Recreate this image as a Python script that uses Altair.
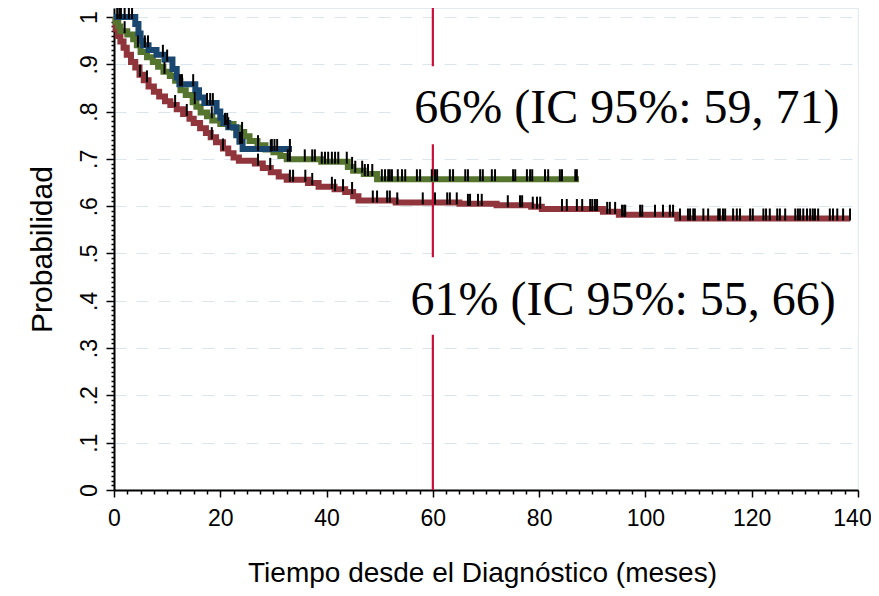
import altair as alt
import pandas as pd

# ---- Kaplan-Meier step curves (time in months, survival probability) ----
red_t = [0, 0.3, 0.7, 1.2, 1.8, 2.4, 3.2, 4.0, 4.8, 5.6, 6.5, 7.5, 8.5, 9.6, 10.6, 11.8, 13.0,
         14.2, 15.0, 16.2, 17.3, 18.2, 19.2, 20.5, 21.5, 22.5, 23.5, 26.5, 28.0, 29.5, 31.0,
         32.5, 36.5, 38.5, 41.5, 43.5, 45.0, 46.0, 53.0, 65.0, 72.0, 78.5, 80.5, 92.0, 95.0, 106.0]
red_s = [1.0, 0.975, 0.96, 0.948, 0.935, 0.92, 0.905, 0.893, 0.878, 0.866, 0.853, 0.842, 0.832,
         0.822, 0.814, 0.805, 0.795, 0.785, 0.776, 0.765, 0.755, 0.746, 0.735, 0.722, 0.712,
         0.703, 0.696, 0.69, 0.681, 0.672, 0.663, 0.656, 0.649, 0.641, 0.636, 0.63, 0.621,
         0.612, 0.608, 0.605, 0.602, 0.599, 0.594, 0.588, 0.582, 0.574]
red_end = 138.5

green_t = [0, 0.3, 0.8, 1.2, 2.5, 3.6, 4.3, 5.0, 6.2, 7.3, 8.3, 9.3, 10.5, 11.5, 12.5, 13.5,
           14.8, 15.5, 16.3, 17.5, 18.5, 20.0, 22.5, 23.5, 24.5, 25.5, 27.0, 28.5, 30.0, 31.3,
           32.5, 39.0, 44.0, 45.0, 47.0, 49.5]
green_s = [1.0, 0.99, 0.98, 0.97, 0.963, 0.953, 0.94, 0.926, 0.915, 0.905, 0.895, 0.884, 0.875,
           0.865, 0.845, 0.835, 0.82, 0.81, 0.798, 0.79, 0.781, 0.774, 0.766, 0.757, 0.748,
           0.738, 0.729, 0.72, 0.714, 0.706, 0.699, 0.694, 0.683, 0.675, 0.668, 0.657]
green_end = 87.5

blue_t = [0, 4.0, 4.6, 5.0, 5.5, 6.5, 8.0, 9.5, 11.0, 11.8, 12.3, 15.3, 16.0, 17.0, 19.3, 20.0,
          20.6, 21.5, 23.0, 23.6, 24.2]
blue_s = [1.0, 0.985, 0.965, 0.95, 0.94, 0.93, 0.92, 0.91, 0.89, 0.872, 0.858, 0.845, 0.83,
          0.818, 0.8, 0.787, 0.776, 0.767, 0.75, 0.736, 0.721]
blue_end = 33.5

# ---- censoring times ----
red_cens = [4.9, 6.2, 11.5, 13.7, 18.4, 20.5, 27.1, 29.4, 33.1, 33.7, 36.0, 37.3, 41.0, 41.6,
            43.1, 44.8, 48.7, 49.5, 51.4, 51.9, 53.3, 58.1, 60.4, 62.7, 63.2, 64.5, 66.6, 67.0,
            68.5, 69.2, 74.1, 76.4, 76.8, 78.8, 79.6, 80.2, 84.3, 85.2, 87.1, 88.1, 89.6, 90.0,
            90.5, 90.9, 92.8, 93.3, 94.3, 95.6, 96.0, 96.2, 99.0, 99.4, 101.8, 103.3, 104.6,
            105.2, 106.5, 108.0, 108.4, 109.0, 109.3, 110.9, 111.8, 113.7, 114.0, 114.6, 115.0,
            116.5, 117.2, 117.8, 119.7, 120.2, 122.2, 122.7, 123.4, 124.8, 125.3, 126.3, 128.2,
            128.7, 129.1, 129.7, 130.4, 131.0, 131.5, 131.9, 132.5, 134.7, 135.3, 136.1, 137.2,
            138.5]
green_cens = [2.0, 4.5, 9.5, 15.2, 18.4, 24.1, 27.1, 29.5, 32.7, 33.1, 35.9, 37.3, 37.8, 39.1,
              39.7, 40.3, 41.0, 41.6, 42.2, 43.8, 44.8, 45.4, 46.7, 47.2, 47.8, 48.6, 50.4, 51.0,
              51.6, 51.9, 52.3, 53.4, 54.2, 54.8, 57.0, 57.6, 59.8, 60.4, 60.8, 63.2, 63.8, 66.1,
              66.6, 68.9, 69.4, 71.1, 71.7, 75.1, 75.5, 77.7, 78.3, 78.7, 81.1, 81.7, 83.9, 84.3,
              86.8, 87.1]
blue_cens = [0.6, 1.0, 1.3, 2.0, 2.8, 3.4, 5.8, 6.4, 9.2, 10.0, 12.4, 12.8, 14.9, 17.5, 18.1,
             18.6, 20.9, 21.3, 21.5, 23.7, 24.1, 27.1, 29.7, 30.2, 30.7, 33.1]

# ---- annotations ----
ref_month = [60]
ann_text = ["66% (IC 95%: 59, 71)", "61% (IC 95%: 55, 66)"]
ann_t = [96.5, 95.8]
ann_s = [0.806, 0.399]
box_t1 = [53.8, 53.8]
box_t2 = [140, 140]
box_s1 = [0.731, 0.328]
box_s2 = [0.896, 0.492]

groups = ["red", "green", "blue"]
colors = ["#90353b", "#55752f", "#1a476f"]


def step_rows(name, ts, ss, end):
    rows = [{"g": name, "t": t, "s": s} for t, s in zip(ts, ss)]
    rows.append({"g": name, "t": end, "s": ss[-1]})
    return rows


def surv_at(ts, ss, x):
    v = ss[0]
    for t, s in zip(ts, ss):
        if t <= x:
            v = s
    return v


curves = {
    "red": (red_t, red_s, red_end, red_cens),
    "green": (green_t, green_s, green_end, green_cens),
    "blue": (blue_t, blue_s, blue_end, blue_cens),
}

xscale = alt.Scale(domain=[0, 140], nice=False, zero=False)
yscale = alt.Scale(domain=[0, 1.019], nice=False, zero=False)

x_minor = [i * 2.5 for i in range(57)]
y_minor = [round(i * 0.01, 2) for i in range(101)]
y_major_test = "abs(datum.value*10 - round(datum.value*10)) < 0.001"

x_axis = alt.Axis(
    values=x_minor,
    title="Tiempo desde el Diagnóstico (meses)",
    labelExpr="datum.value % 20 == 0 ? format(datum.value, 'd') : ''",
    labelFont="Liberation Sans", labelFontSize=23, labelColor="black",
    labelPadding=10, labelOverlap=False, labelFlush=False,
    labelOffset={"condition": {"test": "datum.value >= 139", "value": -6}, "value": 0},
    tickSize={"condition": {"test": "datum.value % 20 == 0", "value": 7}, "value": 4},
    tickColor="black", tickWidth=1.5,
    domainColor="black", domainWidth=2,
    grid=False,
    titleFont="Liberation Sans", titleFontSize=28, titleFontWeight="normal",
    titleColor="black", titleX=368, titleY=91, titleBaseline="alphabetic",
)

y_axis = alt.Axis(
    values=y_minor,
    title="Probabilidad",
    labelExpr=("(" + y_major_test + ") ? (datum.value == 0 ? '0' : datum.value > 0.999 ? '1' : "
               "'.' + format(round(datum.value*10), 'd')) : ''"),
    labelFont="Liberation Sans", labelFontSize=23, labelColor="black",
    labelAngle=270, labelAlign="center", labelBaseline="alphabetic",
    labelPadding=10, labelOverlap=False, labelFlush=False,
    tickSize={"condition": {"test": y_major_test, "value": 8}, "value": 3},
    tickColor="black", tickWidth=1.5,
    domainColor="black", domainWidth=2,
    grid=True, gridColor="#dbe5ec", gridDash=[12, 10], gridWidth=1.2,
    gridOpacity={"condition": {"test": y_major_test + " && datum.value > 0.001", "value": 1}, "value": 0},
    titleFont="Liberation Sans", titleFontSize=30, titleFontWeight="normal",
    titleColor="black", titleAngle=270, titleAlign="center", titleBaseline="alphabetic",
    titleX=-63, titleY=241,
)


def X(field):
    return alt.X(field, scale=xscale, axis=x_axis)


def Y(field):
    return alt.Y(field, scale=yscale, axis=y_axis)


layers = []
for i, g in enumerate(groups):
    ts, ss, end, _ = curves[g]
    df = pd.DataFrame(step_rows(g, ts, ss, end))
    layers.append(
        alt.Chart(df).mark_line(interpolate="step-after", strokeWidth=6, color=colors[i],
                                strokeJoin="miter").encode(x=X("t:Q"), y=Y("s:Q"))
    )

rule = alt.Chart(pd.DataFrame({"t": ref_month})).mark_rule(color="#c8103a", strokeWidth=2.2).encode(
    x=X("t:Q")
)

boxes = alt.Chart(pd.DataFrame({"x1": box_t1, "x2": box_t2, "y1": box_s1, "y2": box_s2})).mark_rect(
    color="white"
).encode(
    x=X("x1:Q"), x2="x2:Q",
    y=Y("y1:Q"), y2="y2:Q",
)

cens_rows = []
for g in groups:
    ts, ss, end, cens = curves[g]
    for c in cens:
        cens_rows.append({"g": g, "t": c, "s": surv_at(ts, ss, c)})
ticks = alt.Chart(pd.DataFrame(cens_rows)).mark_tick(
    orient="vertical", color="black", thickness=2, size=12, yOffset=-4, opacity=1
).encode(
    x=X("t:Q"),
    y=Y("s:Q"),
)

texts = alt.Chart(pd.DataFrame({"label": ann_text, "t": ann_t, "s": ann_s})).mark_text(
    font="Liberation Serif", fontSize=48, color="black", align="center", baseline="middle"
).encode(
    x=X("t:Q"),
    y=Y("s:Q"),
    text="label:N",
)

chart = alt.layer(
    layers[0], rule, boxes, layers[1], layers[2], ticks, texts
).properties(
    width=744, height=482,
    autosize=alt.AutoSizeParams(type="none"),
    padding={"left": 106, "top": 0, "right": 13, "bottom": 100},
    background="white",
).configure_view(stroke="#e3eaef", strokeWidth=1.2)

chart.save("out.html", embed_options={"renderer": "svg", "actions": False})
